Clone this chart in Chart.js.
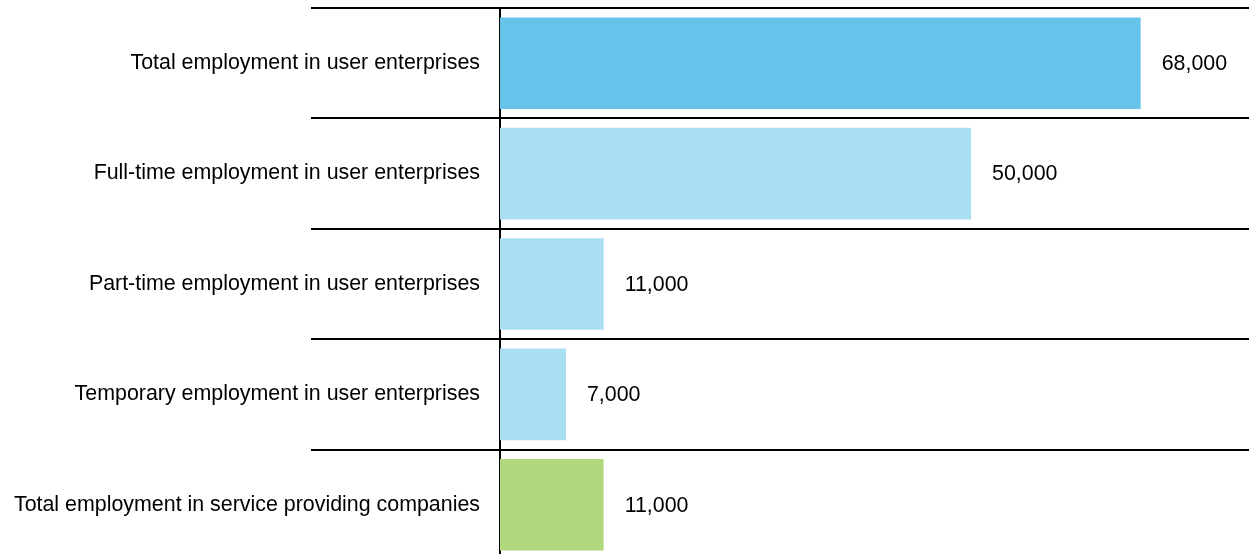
<!DOCTYPE html>
<html>
<head>
<meta charset="utf-8">
<script src="https://cdn.jsdelivr.net/npm/chart.js@4/dist/chart.umd.min.js"></script>
<style>
  html, body { margin: 0; padding: 0; background: #fff; overflow: hidden; }
  #wrap { width: 1249px; height: 554px; overflow: hidden; }
  #box { width: 1249px; height: 562px; }
</style>
</head>
<body>
<div id="wrap"><div id="box"><canvas id="empChart"></canvas></div></div>
<script>
const categories = [
  "Total employment in user enterprises",
  "Full-time employment in user enterprises",
  "Part-time employment in user enterprises",
  "Temporary employment in user enterprises",
  "Total employment in service providing companies"
];
const employment = [68000, 50000, 11000, 7000, 11000];
const barColors = ["#66c4ea", "#aadff3", "#aadff3", "#aadff3", "#b0d87c"];

const FONT = "'Liberation Sans', Arial, sans-serif";
const FONT_SIZE = 21.4;

// prints the figure just right of each bar end
const valueLabels = {
  id: "valueLabels",
  afterDatasetsDraw(chart) {
    const ctx = chart.ctx;
    const meta = chart.getDatasetMeta(0);
    ctx.save();
    ctx.font = FONT_SIZE + "px " + FONT;
    ctx.fillStyle = "#000";
    ctx.textAlign = "left";
    ctx.textBaseline = "middle";
    meta.data.forEach((bar, i) => {
      ctx.fillText(employment[i].toLocaleString("en-US"), bar.x + 21, bar.y + 1);
    });
    ctx.restore();
  }
};

chart = new Chart(document.getElementById("empChart").getContext("2d"), {
  type: "bar",
  data: {
    labels: categories,
    datasets: [{
      data: employment,
      backgroundColor: barColors,
      borderWidth: 0,
      categoryPercentage: 1,
      barPercentage: 0.83
    }]
  },
  options: {
    indexAxis: "y",
    responsive: true,
    maintainAspectRatio: false,
    animation: false,
    layout: { padding: { top: 8, right: 0, bottom: 2, left: 0 } },
    plugins: {
      legend: { display: false },
      tooltip: { enabled: false }
    },
    scales: {
      x: {
        display: false,
        min: 0,
        max: 79500
      },
      y: {
        z: 1,
        afterFit(scale) { scale.width = 500; },
        grid: {
          offset: true,
          color: "#000",
          lineWidth: 2,
          tickLength: 189,
          drawTicks: true
        },
        border: { color: "#000", width: 2 },
        ticks: {
          color: "#000",
          padding: -169,
          font: { family: FONT, size: FONT_SIZE }
        }
      }
    }
  },
  plugins: [valueLabels]
});
</script>
</body>
</html>
